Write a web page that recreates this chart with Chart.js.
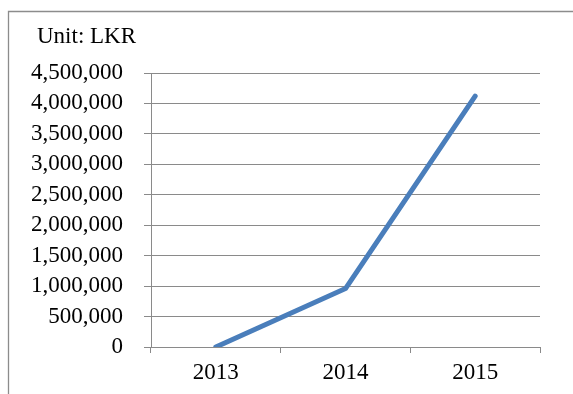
<!DOCTYPE html>
<html>
<head>
<meta charset="utf-8">
<script src="https://cdn.jsdelivr.net/npm/chart.js@4.4.1/dist/chart.umd.min.js"></script>
<style>
  html, body { margin: 0; padding: 0; background: #fff; overflow: hidden; }
  #wrap { position: absolute; left: 0; top: 0; width: 573px; height: 394px; }
</style>
</head>
<body>
<div id="wrap"><canvas id="lkrChart" width="573" height="394"></canvas></div>
<script>
const years = ["2013", "2014", "2015"];
const amounts = [0, 960000, 4120000];
const unitLabel = "Unit: LKR";

const serif = "'Liberation Serif', 'Times New Roman', serif";
const gridGray = "#8a8a8a";

// outer frame (top and left edges) plus the unit caption
const frameAndCaption = {
    id: "frameAndCaption",
    beforeDraw(chart) {
        const ctx = chart.ctx;
        ctx.save();
        ctx.strokeStyle = "#8c8c8c";
        ctx.lineWidth = 1.3;
        ctx.beginPath();
        ctx.moveTo(chart.width + 5, 11.5);
        ctx.lineTo(8.5, 11.5);
        ctx.lineTo(8.5, chart.height + 5);
        ctx.stroke();
        ctx.restore();
    },
    afterDraw(chart) {
        const ctx = chart.ctx;
        ctx.save();
        ctx.font = "23px " + serif;
        ctx.fillStyle = "#000";
        ctx.textBaseline = "alphabetic";
        ctx.fillText(unitLabel, 37, 43);
        ctx.restore();
    }
};

new Chart(document.getElementById("lkrChart"), {
    type: "line",
    data: {
        labels: years,
        datasets: [{
            data: amounts,
            borderColor: "#4a7ebb",
            borderWidth: 5,
            borderCapStyle: "round",
            borderJoinStyle: "round",
            pointRadius: 0,
            tension: 0,
            fill: false
        }]
    },
    options: {
        responsive: false,
        animation: false,
        layout: { padding: { top: 73, right: 33, bottom: 0, left: 0 } },
        plugins: { legend: { display: false }, tooltip: { enabled: false } },
        scales: {
            x: {
                offset: true,
                afterFit: s => { s.height = 47; },
                grid: { offset: true, drawOnChartArea: false, color: gridGray, tickLength: 6 },
                border: { color: gridGray },
                ticks: { color: "#000", font: { family: serif, size: 23 }, padding: 6, maxRotation: 0, autoSkip: false }
            },
            y: {
                min: 0,
                max: 4500000,
                afterFit: s => { s.width = 151; },
                grid: { color: gridGray, tickLength: 7 },
                border: { color: gridGray },
                ticks: {
                    stepSize: 500000,
                    autoSkip: false,
                    color: "#000",
                    padding: 21,
                    font: { family: serif, size: 23 },
                    callback: v => v.toLocaleString("en-US")
                }
            }
        }
    },
    plugins: [frameAndCaption]
});
</script>
</body>
</html>
